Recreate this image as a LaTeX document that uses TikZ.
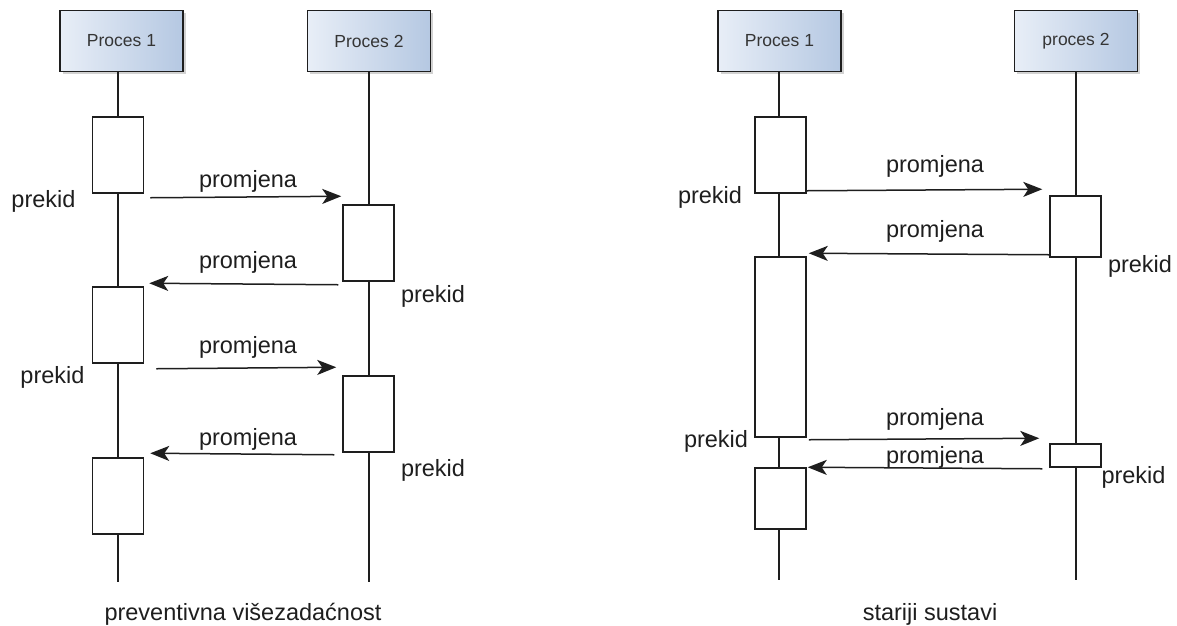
\documentclass[tikz,border=0pt]{standalone}
\usepackage{fontspec}
\setmainfont{Liberation Sans}
\usetikzlibrary{arrows.meta,shadows}
\definecolor{headlight}{HTML}{E8EEF7}
\definecolor{headdark}{HTML}{B5C8E2}
\definecolor{ink}{HTML}{1E1E1E}
\tikzset{
  head/.style={draw=ink, line width=1.5pt, minimum width=123pt, minimum height=61pt,
    inner sep=0pt, left color=headlight, right color=headdark,
    drop shadow={fill=black!35, shadow xshift=2.5pt, shadow yshift=-2.5pt, opacity=0.5},
    font=\fontsize{17.5}{20}\selectfont, text=ink!90},
  act/.style={draw=ink, fill=white, line width=1.5pt, minimum width=51pt, inner sep=0pt},
  life/.style={draw=ink, line width=1.5pt},
  msg/.style={draw=ink, line width=1.5pt, -{Stealth[length=19pt,width=15pt,inset=5pt]}},
  lbl/.style={font=\fontsize{23.5}{28}\selectfont, text=ink, anchor=base, inner sep=0pt},
}
\begin{document}
\begin{tikzpicture}[x=1pt,y=-1pt]
\useasboundingbox (0,0) rectangle (1177,625);

% preventivna visezadacnost
\node[head] (h1) at (121.5,41) {Proces 1};
\node[head] (h2) at (369,41) {Proces 2};
\coordinate (e1) at (118,582);
\coordinate (e2) at (369,582);
\draw[life] (h1.south -| e1) -- (e1);
\draw[life] (h2.south) -- (e2);

\node[act, minimum height=76pt] (a1) at (118,155) {};
\node[act, minimum height=76pt] (a2) at (368.5,243) {};
\node[act, minimum height=76pt] (a3) at (118,325) {};
\node[act, minimum height=76pt] (a4) at (368.5,414) {};
\node[act, minimum height=76pt] (a5) at (118,496) {};

\draw[msg] ([shift={(6,4)}]a1.south east) -- ([shift={(-1,-8)}]a2.north west);
\draw[msg] ([shift={(-4,3)}]a2.south west) -- ([shift={(5,-3)}]a3.north east);
\draw[msg] ([shift={(12,5)}]a3.south east) -- ([shift={(-6,-8)}]a4.north west);
\draw[msg] ([shift={(-8,2)}]a4.south west) -- ([shift={(6,-4)}]a5.north east);

\node[lbl] (t1) at (248,187) {promjena};
\node[lbl] (t2) at (248,268) {promjena};
\node[lbl] (t3) at (248,353) {promjena};
\node[lbl] (t4) at (248,445) {promjena};

\node[lbl] (p1) at (43.5,207) {prekid};
\node[lbl] (p2) at (433,302) {prekid};
\node[lbl] (p3) at (52.5,383) {prekid};
\node[lbl] (p4) at (433,476) {prekid};

\node[lbl] (n1) at (243,620) {preventivna višezadaćnost};

% stariji sustavi
\node[head] (h3) at (779.5,41) {Proces 1};
\node[head] (h4) at (1076,41) {proces 2};
\coordinate (e3) at (779,580);
\coordinate (e4) at (1076,580);
\draw[life] (h3.south -| e3) -- (e3);
\draw[life] (h4.south) -- (e4);

\node[act, minimum height=76pt] (b1) at (780.5,155) {};
\node[act, minimum height=61pt] (b2) at (1075.5,226.5) {};
\node[act, minimum height=180pt] (b3) at (780.5,347) {};
\node[act, minimum height=23pt] (b4) at (1075.5,455.5) {};
\node[act, minimum height=61pt] (b5) at (780.5,498.5) {};

\draw[msg] ([shift={(0,-3)}]b1.south east) -- ([shift={(-7,-6)}]b2.north west);
\draw[msg] ([shift={(0,-3)}]b2.south west) -- ([shift={(2,-3)}]b3.north east);
\draw[msg] ([shift={(2,2)}]b3.south east) -- ([shift={(-10,-5)}]b4.north west);
\draw[msg] ([shift={(-7,1)}]b4.south west) -- ([shift={(1,0)}]b5.north east);

\node[lbl] (u1) at (935,172) {promjena};
\node[lbl] (u2) at (935,237) {promjena};
\node[lbl] (u3) at (935,425) {promjena};
\node[lbl] (u4) at (935,463) {promjena};

\node[lbl] (q1) at (710,203) {prekid};
\node[lbl] (q2) at (1140,272) {prekid};
\node[lbl] (q3) at (716,447) {prekid};
\node[lbl] (q4) at (1133.5,483) {prekid};

\node[lbl] (n2) at (930,620) {stariji sustavi};
\end{tikzpicture}
\end{document}
